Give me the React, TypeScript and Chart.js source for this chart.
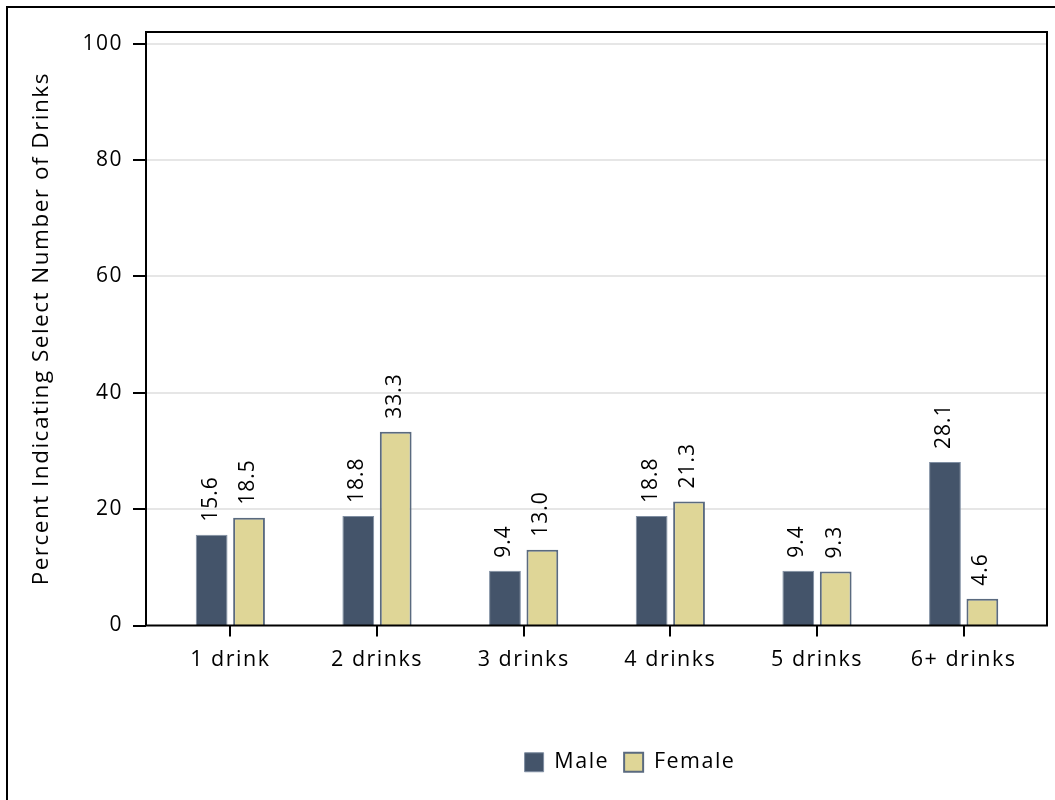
import React, { useEffect, useRef } from "react";
import { Chart, registerables } from "chart.js";

Chart.register(...registerables);

const categories = ["1 drink", "2 drinks", "3 drinks", "4 drinks", "5 drinks", "6+ drinks"];
const maleValues = [15.6, 18.8, 9.4, 18.8, 9.4, 28.1];
const femaleValues = [18.5, 33.3, 13.0, 21.3, 9.3, 4.6];
const seriesNames = ["Male", "Female"];
const yTickValues = [0, 20, 40, 60, 80, 100];
const yAxisTitle = "Percent Indicating Select Number of Drinks";

const FONT_FAMILY = "'Open Sans', Lato, sans-serif";
const LETTER_SPACING = "1.5px";

const setSpacing = (chart: any) => {
  try {
    (chart.ctx as any).letterSpacing = LETTER_SPACING;
  } catch (e) {}
};

const spacingPlugin = {
  id: "spacing",
  beforeUpdate: setSpacing,
  beforeLayout: setSpacing,
  beforeDraw: setSpacing,
};

const legendShiftPlugin = {
  id: "legendShift",
  afterLayout(chart: any) {
    const lg = chart.legend;
    if (!lg) return;
    const target = 630;
    const d = target - (lg.left + lg.right) / 2;
    lg.left += d;
    lg.right += d;
  },
};

const framePlugin = {
  id: "frame",
  beforeDatasetsDraw(chart: any) {
    const { ctx, chartArea } = chart;
    const y = chart.scales.y;
    const boxL = chartArea.left - 11;
    const boxR = chartArea.right + 10;
    ctx.save();
    ctx.strokeStyle = "#e6e6e6";
    ctx.lineWidth = 2;
    y.ticks.forEach((t: any) => {
      if (t.value === 0) return;
      const py = Math.round(y.getPixelForValue(t.value));
      ctx.beginPath();
      ctx.moveTo(boxL, py);
      ctx.lineTo(boxR, py);
      ctx.stroke();
    });
    ctx.restore();
  },
  afterDatasetsDraw(chart: any) {
    const { ctx, chartArea } = chart;
    const y = chart.scales.y;
    const x = chart.scales.x;
    const boxL = chartArea.left - 11;
    const boxR = chartArea.right + 10;
    const top = chartArea.top;
    const bottom = chartArea.bottom;
    ctx.save();
    ctx.strokeStyle = "#000000";
    ctx.lineWidth = 2;
    ctx.strokeRect(boxL, top, boxR - boxL, bottom - top);
    y.ticks.forEach((t: any) => {
      const py = Math.round(y.getPixelForValue(t.value));
      ctx.beginPath();
      ctx.moveTo(boxL - 13, py);
      ctx.lineTo(boxL, py);
      ctx.stroke();
    });
    categories.forEach((_, i) => {
      const px = Math.round(x.getPixelForValue(i));
      ctx.beginPath();
      ctx.moveTo(px, bottom);
      ctx.lineTo(px, bottom + 11);
      ctx.stroke();
    });
    ctx.restore();

    ctx.save();
    ctx.font = `21px ${FONT_FAMILY}`;
    (ctx as any).letterSpacing = "1px";
    ctx.fillStyle = "#000000";
    ctx.textAlign = "left";
    ctx.textBaseline = "middle";
    chart.data.datasets.forEach((ds: any, di: number) => {
      const meta = chart.getDatasetMeta(di);
      meta.data.forEach((el: any, i: number) => {
        const v = ds.data[i];
        ctx.save();
        ctx.translate(el.x - 1, el.y - 13);
        ctx.rotate(-Math.PI / 2);
        ctx.fillText(Number(v).toFixed(1), 0, 0);
        ctx.restore();
      });
    });
    ctx.restore();
  },
};

export default function App() {
  const canvasRef = useRef<HTMLCanvasElement | null>(null);

  useEffect(() => {
    const canvas = canvasRef.current;
    if (!canvas) return;
    const chart = new Chart(canvas, {
      type: "bar",
      data: {
        labels: categories,
        datasets: [
          {
            label: seriesNames[0],
            data: maleValues,
            backgroundColor: "#44546a",
            borderColor: "#7f8ea2",
            borderWidth: 1,
          },
          {
            label: seriesNames[1],
            data: femaleValues,
            backgroundColor: "#dfd697",
            borderColor: "#5a6a7f",
            borderWidth: 2,
          },
        ],
      },
      plugins: [spacingPlugin, legendShiftPlugin, framePlugin],
      options: {
        responsive: false,
        animation: false,
        devicePixelRatio: 1,
        layout: { padding: { left: 0, right: 18, top: 32, bottom: 17 } },
        datasets: {
          bar: { categoryPercentage: 0.51, barPercentage: 0.85 },
        },
        scales: {
          x: {
            type: "category",
            grid: { display: false, drawTicks: false },
            border: { display: false },
            ticks: {
              color: "#000000",
              font: { family: FONT_FAMILY, size: 21.5 },
              padding: 21,
              maxRotation: 0,
              autoSkip: false,
            },
            afterFit: (s: any) => {
              s.height = 111;
              s.paddingLeft = 0;
              s.paddingRight = 0;
            },
          },
          y: {
            type: "linear",
            min: 0,
            max: 102,
            grid: { display: false, drawTicks: false },
            border: { display: false },
            afterBuildTicks: (s: any) => {
              s.ticks = yTickValues.map((v) => ({ value: v }));
            },
            ticks: {
              color: "#000000",
              font: { family: FONT_FAMILY, size: 21 },
              padding: 34,
            },
            title: {
              display: true,
              text: yAxisTitle,
              color: "#000000",
              font: { family: FONT_FAMILY, size: 22.5 },
              padding: { top: 28, bottom: 0 },
            },
            afterFit: (s: any) => {
              s.width = 157;
              s.paddingTop = 0;
              s.paddingBottom = 0;
            },
          },
        },
        plugins: {
          legend: {
            display: true,
            position: "bottom",
            labels: {
              color: "#000000",
              font: { family: FONT_FAMILY, size: 21.5 },
              boxWidth: 19,
              boxHeight: 19,
              padding: 15,
            },
          },
          tooltip: { enabled: false },
          title: { display: false },
        },
      },
    });
    return () => {
      chart.destroy();
    };
  }, []);

  return (
    <div style={{ position: "fixed", left: 0, top: 0, width: 1055, height: 800, overflow: "hidden", background: "#ffffff" }}>
      <div
        style={{
          position: "absolute",
          left: 6,
          top: 6,
          width: 1200,
          height: 1000,
          border: "2px solid #000000",
          boxSizing: "border-box",
        }}
      />
      <canvas
        ref={canvasRef}
        width={1055}
        height={800}
        style={{ position: "absolute", left: 0, top: 0, width: 1055, height: 800 }}
      />
    </div>
  );
}
